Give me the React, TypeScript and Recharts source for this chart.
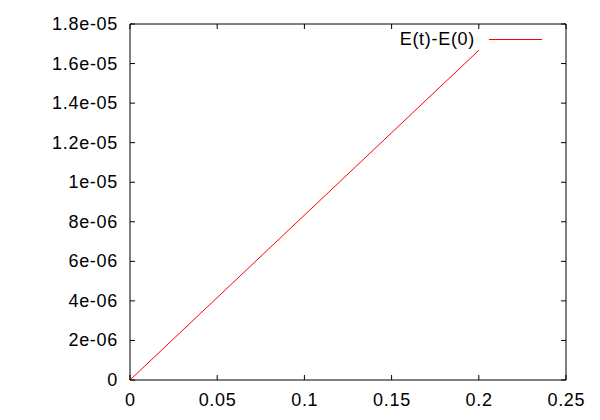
import React from 'react';
import { LineChart, Line, XAxis, YAxis, ReferenceArea } from 'recharts';

const timeValues = [0, 0.2];
const energyDrift = [0, 1.667e-5];
const seriesName = 'E(t)-E(0)';
const xTicks = [0, 0.05, 0.1, 0.15, 0.2, 0.25];
const xTickLabels = ['0', '0.05', '0.1', '0.15', '0.2', '0.25'];
const yTicks = [0, 2e-6, 4e-6, 6e-6, 8e-6, 1e-5, 1.2e-5, 1.4e-5, 1.6e-5, 1.8e-5];
const yTickLabels = ['0', '2e-06', '4e-06', '6e-06', '8e-06', '1e-05', '1.2e-05', '1.4e-05', '1.6e-05', '1.8e-05'];

const W = 600;
const H = 420;
const PLOT_LEFT = 130;
const PLOT_RIGHT = 566;
const PLOT_TOP = 24;
const PLOT_BOTTOM = 380;
const TICK = 5;
const FONT = '"Liberation Sans", Arial, sans-serif';
const FS = 18;
const LS = 0.7;

const data = timeValues.map((t, i) => ({ t, e: energyDrift[i] }));

const findLabel = (vals: number[], labels: string[], v: number) => {
  let best = 0;
  for (let i = 0; i < vals.length; i++) {
    if (Math.abs(vals[i] - v) < Math.abs(vals[best] - v)) best = i;
  }
  return labels[best];
};

const XTick = (props: any) => {
  const { x, payload } = props;
  const label = findLabel(xTicks, xTickLabels, payload.value);
  return (
    <g>
      <line x1={x} x2={x} y1={PLOT_BOTTOM} y2={PLOT_BOTTOM - TICK} stroke="#000" strokeWidth={1} />
      <line x1={x} x2={x} y1={PLOT_TOP} y2={PLOT_TOP + TICK} stroke="#000" strokeWidth={1} />
      <text
        x={x + LS / 2}
        y={400}
        textAnchor="middle"
        dominantBaseline="central"
        fontFamily={FONT}
        fontSize={FS}
        letterSpacing={LS}
        fill="#000"
      >
        {label}
      </text>
    </g>
  );
};

const YTick = (props: any) => {
  const { y, payload } = props;
  const label = findLabel(yTicks, yTickLabels, payload.value);
  return (
    <g>
      <line x1={PLOT_LEFT} x2={PLOT_LEFT + TICK} y1={y} y2={y} stroke="#000" strokeWidth={1} />
      <line x1={PLOT_RIGHT} x2={PLOT_RIGHT - TICK} y1={y} y2={y} stroke="#000" strokeWidth={1} />
      <text
        x={118}
        y={y}
        textAnchor="end"
        dominantBaseline="central"
        fontFamily={FONT}
        fontSize={FS}
        letterSpacing={LS}
        fill="#000"
      >
        {label}
      </text>
    </g>
  );
};

export default function App() {
  return (
    <div style={{ position: 'absolute', left: 0, top: 0, width: W, height: H, background: '#fff' }}>
      <LineChart
        width={W}
        height={H}
        data={data}
        margin={{ top: PLOT_TOP, right: W - PLOT_RIGHT, bottom: 0, left: 0 }}
      >
        <XAxis
          dataKey="t"
          type="number"
          domain={[0, 0.25]}
          ticks={xTicks}
          interval={0}
          tick={XTick}
          tickLine={false}
          axisLine={false}
          height={H - PLOT_BOTTOM}
          allowDataOverflow
        />
        <YAxis
          type="number"
          domain={[0, 1.8e-5]}
          ticks={yTicks}
          interval={0}
          tick={YTick}
          tickLine={false}
          axisLine={false}
          width={PLOT_LEFT}
          allowDataOverflow
        />
        <ReferenceArea
          x1={0}
          x2={0.25}
          y1={0}
          y2={1.8e-5}
          fill="none"
          fillOpacity={0}
          stroke="#000"
          strokeWidth={1}
          ifOverflow="visible"
        />
        <Line
          type="linear"
          dataKey="e"
          name={seriesName}
          stroke="#ff0000"
          strokeWidth={1}
          dot={false}
          activeDot={false}
          isAnimationActive={false}
        />
      </LineChart>
      <div
        style={{
          position: 'absolute',
          left: 342,
          top: 29,
          width: 200,
          height: 20,
          display: 'flex',
          justifyContent: 'flex-end',
          alignItems: 'center',
          fontFamily: FONT,
          fontSize: FS,
          letterSpacing: LS,
          lineHeight: '20px',
          color: '#000',
        }}
      >
        <span>{seriesName}</span>
        <div style={{ width: 14 }} />
        <div style={{ width: 53, height: 1, background: '#ff0000' }} />
      </div>
    </div>
  );
}
